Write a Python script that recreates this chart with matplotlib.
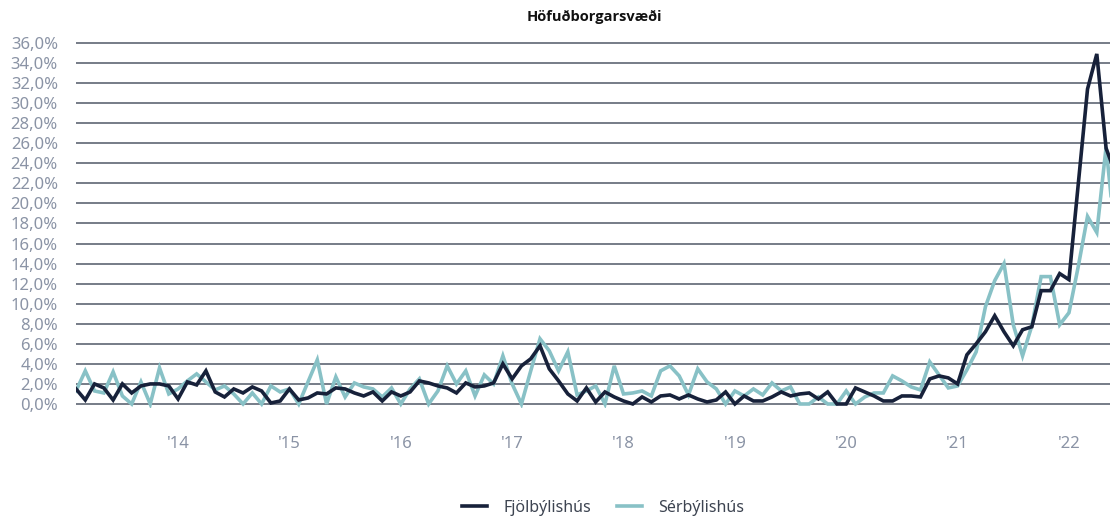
import matplotlib
matplotlib.use("Agg")
import matplotlib.pyplot as plt
import numpy as np

# Monthly values, Feb 2013 .. Jun 2022 (%)
fjolbyli = [1.5, 0.4, 2.0, 1.6, 0.4, 2.0, 1.1, 1.8, 2.0, 2.0, 1.8, 0.5,
            2.2, 1.9, 3.3, 1.2, 0.7, 1.5, 1.1, 1.7, 1.3, 0.1, 0.3, 1.5,
            0.4, 0.6, 1.1, 1.0, 1.6, 1.5, 1.1, 0.8, 1.2, 0.3, 1.2, 0.8,
            1.2, 2.3, 2.1, 1.8, 1.6, 1.1, 2.1, 1.7, 1.8, 2.1, 4.0, 2.5,
            3.8, 4.5, 5.8, 3.5, 2.3, 1.0, 0.3, 1.6, 0.2, 1.2, 0.7, 0.3,
            0.0, 0.7, 0.2, 0.8, 0.9, 0.5, 0.9, 0.5, 0.2, 0.4, 1.2, 0.0,
            0.8, 0.3, 0.3, 0.7, 1.2, 0.8, 1.0, 1.1, 0.5, 1.2, 0.0, 0.0,
            1.6, 1.2, 0.8, 0.3, 0.3, 0.8, 0.8, 0.7, 2.5, 2.8, 2.6, 2.0,
            4.9, 6.0, 7.2, 8.8, 7.2, 5.8, 7.4, 7.7, 11.3, 11.3, 13.0, 12.4,
            21.9, 31.4, 34.9, 25.5, 23.0]
serbyli = [1.3, 3.3, 1.3, 1.1, 3.2, 0.8, 0.0, 2.2, 0.0, 3.6, 1.0, 1.5,
           2.3, 3.0, 2.2, 1.4, 1.8, 1.0, 0.0, 1.1, 0.0, 1.8, 1.2, 1.5,
           0.0, 2.2, 4.4, 0.0, 2.7, 0.7, 2.1, 1.7, 1.5, 0.7, 1.6, 0.0,
           1.5, 2.5, 0.0, 1.3, 3.8, 2.0, 3.3, 0.8, 2.9, 2.0, 4.8, 2.0,
           0.0, 3.3, 6.5, 5.3, 3.3, 5.2, 0.9, 1.3, 1.8, 0.0, 3.8, 1.0,
           1.1, 1.3, 0.8, 3.3, 3.8, 2.8, 0.9, 3.5, 2.2, 1.5, 0.0, 1.3,
           0.8, 1.5, 0.9, 2.1, 1.3, 1.7, 0.0, 0.0, 0.7, 0.0, 0.0, 1.3,
           0.0, 0.7, 1.1, 1.1, 2.8, 2.3, 1.7, 1.4, 4.2, 2.9, 1.6, 1.8,
           3.4, 5.2, 9.7, 12.3, 14.0, 7.9, 4.8, 7.8, 12.7, 12.7, 7.9, 9.1,
           13.7, 18.7, 17.1, 25.6, 16.5]
year_labels = ["'14", "'15", "'16", "'17", "'18", "'19", "'20", "'21", "'22"]
jan_index = [11, 23, 35, 47, 59, 71, 83, 95, 107]
series_names = ["Fjölbýlishús", "Sérbýlishús"]

plt.rcParams['font.family'] = ['Noto Sans', 'DejaVu Sans']

W, H = 1110, 519
fig = plt.figure(figsize=(W / 100, H / 100), dpi=100)
ax_left, ax_right = 76, 1110
y_bot, y_top = 408, 40.9
ax = fig.add_axes([ax_left / W, (H - y_bot) / H, (ax_right - ax_left) / W, (y_bot - y_top) / H])

dark = "#17213a"
teal = "#88c1c6"
grid_c = "#5f6673"
tick_c = "#8a93a5"

x = np.arange(len(fjolbyli))
ax.plot(x, fjolbyli, color=dark, lw=2.6, solid_joinstyle='miter', label=series_names[0], zorder=3)
ax.plot(x, serbyli, color=teal, lw=2.6, solid_joinstyle='miter', label=series_names[1], zorder=2)

ax.set_xlim(0, (1110 - 76) / 9.28)
ax.set_ylim(-0.4, 36.2)
yt = np.arange(0, 37, 2)
ax.set_yticks(yt)
ax.set_yticklabels([f"{v:.1f}".replace('.', ',') + "%" for v in yt], color=tick_c, fontsize=12)
ax.set_xticks(jan_index)
ax.set_xticklabels(year_labels, color=tick_c, fontsize=12)
ax.tick_params(axis='both', length=0)
ax.tick_params(axis='y', pad=13)
ax.tick_params(axis='x', pad=20)
for v in yt:
    ax.axhline(v, color=grid_c, lw=1.2, zorder=1)
for s in ax.spines.values():
    s.set_visible(False)

fig.text(594 / W, 1 - 17 / H, "Höfuðborgarsvæði", ha='center', va='center',
         fontsize=10.5, fontweight='bold', color="#111111", family=['Open Sans', 'DejaVu Sans'])

leg = fig.legend(loc='center', bbox_to_anchor=(603 / W, 1 - 508 / H), ncol=2, frameon=False,
                 fontsize=11.5, handlelength=1.6, columnspacing=1.6, handletextpad=1.0)
for t in leg.get_texts():
    t.set_color("#3d4451")

fig.savefig("out.png", dpi=100)
